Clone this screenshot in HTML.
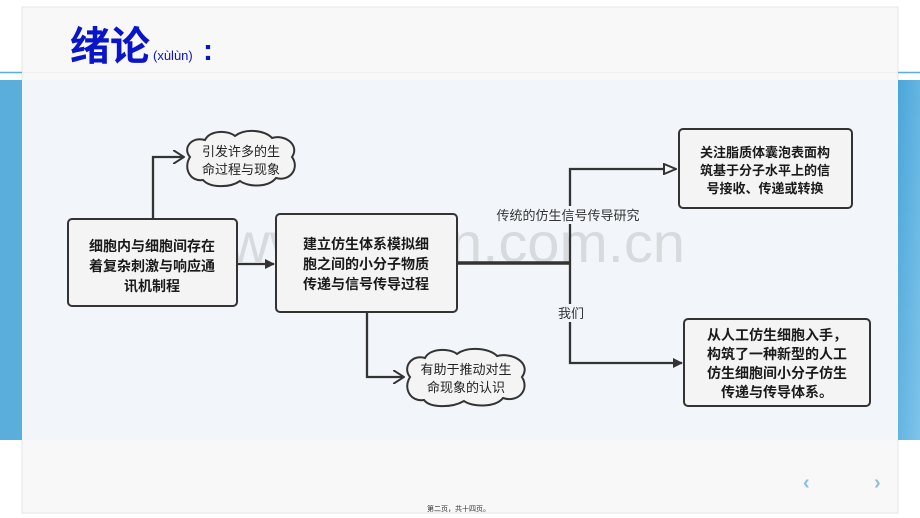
<!DOCTYPE html>
<html><head><meta charset="utf-8"><style>
body{margin:0;width:920px;height:518px;overflow:hidden;background:#fff;font-family:"Liberation Sans","Noto Sans CJK SC",sans-serif;}
</style></head><body>
<svg width="920" height="518" viewBox="0 0 920 518" xmlns="http://www.w3.org/2000/svg" style="position:absolute;left:0;top:0">
<defs>
<linearGradient id="bl" x1="0" y1="0" x2="1" y2="1"><stop offset="0" stop-color="#4aa6d8"/><stop offset="1" stop-color="#7fc4ea"/></linearGradient>
<marker id="fa" markerWidth="10" markerHeight="10" refX="9" refY="5" orient="auto" markerUnits="userSpaceOnUse"><path d="M0,0 L10,5 L0,10z" fill="#333"/></marker>
<marker id="va" markerWidth="12" markerHeight="14" refX="11" refY="7" orient="auto" markerUnits="userSpaceOnUse"><path d="M0,0 L11,7 L0,14" fill="none" stroke="#333" stroke-width="2"/></marker>
<marker id="ta" markerWidth="14" markerHeight="12" refX="13" refY="6" orient="auto" markerUnits="userSpaceOnUse"><path d="M1,1 L13,6 L1,11z" fill="#f4f6f8" stroke="#333" stroke-width="2"/></marker>
</defs>
<rect x="22" y="7" width="876" height="506" fill="#f8f8f8" stroke="#e4e4e4"/>
<line x1="0" y1="72.5" x2="22" y2="72.5" stroke="#5aaedc" stroke-width="1.5"/>
<line x1="898" y1="72.5" x2="920" y2="72.5" stroke="#5aaedc" stroke-width="1.5"/>
<line x1="22" y1="72.5" x2="898" y2="72.5" stroke="#eef0f2"/>
<rect x="0" y="80" width="22" height="360" fill="#5aaedc"/>
<rect x="898" y="80" width="22" height="360" fill="url(#bl)"/>
<rect x="22" y="80" width="876" height="360" fill="#f2f6fa"/>
<text x="70" y="60" font-size="40" font-weight="bold" fill="#0a14c8">绪论</text>
<text x="153" y="60" font-size="13" fill="#0a14c8">(xùlùn)</text>
<text x="203" y="60" font-size="30" font-weight="bold" fill="#0a14c8">:</text>
<text x="228" y="262" font-size="56" fill="#d8dadd" textLength="457" lengthAdjust="spacingAndGlyphs">www.zixin.com.cn</text>
<g fill="none" stroke="#333" stroke-width="2.3">
<path d="M153,219 V157 H184" marker-end="url(#va)"/>
<path d="M237,264 H274" marker-end="url(#fa)"/>
<path d="M457,263 H570" stroke-width="3.5"/>
<path d="M570,263 V169 H676" marker-end="url(#ta)"/>
<path d="M570,263 V363 H682" marker-end="url(#fa)"/>
<path d="M367,312 V377 H404" marker-end="url(#va)"/>
</g>
<g fill="#f4f4f4" stroke="#333" stroke-width="2">
<rect x="68" y="219" width="169" height="87" rx="4"/>
<rect x="276" y="214" width="181" height="98" rx="4"/>
<rect x="679" y="129" width="173" height="79" rx="4"/>
<rect x="684" y="319" width="186" height="87" rx="4"/>
<path d="M190,157 C182,148 192,136 205,140 C210,130 228,130 235,136 C245,128 265,130 272,138 C285,134 300,145 292,157 C300,168 290,182 276,178 C268,188 248,187 240,181 C230,188 210,188 203,180 C190,182 183,168 190,157z"/>
<path d="M410,377 C402,367 412,354 425,358 C430,348 450,348 457,354 C467,346 490,348 497,356 C512,352 532,363 522,377 C530,390 518,403 503,398 C495,408 472,407 464,401 C452,408 430,408 424,400 C410,402 403,388 410,377z"/>
</g>
<g font-size="14" fill="#222" text-anchor="middle">
<text x="241" y="156" font-size="13">引发许多的生</text><text x="241" y="174" font-size="13">命过程与现象</text>
<text x="466" y="374" font-size="13">有助于推动对生</text><text x="466" y="392" font-size="13">命现象的认识</text>
</g>
<g font-size="14" font-weight="bold" fill="#1a1a1a" text-anchor="middle">
<text x="152" y="251">细胞内与细胞间存在</text><text x="152" y="271">着复杂刺激与响应通</text><text x="152" y="291">讯机制程</text>
<text x="366" y="249">建立仿生体系模拟细</text><text x="366" y="269">胞之间的小分子物质</text><text x="366" y="289">传递与信号传导过程</text>
<text x="765" y="157" font-size="13">关注脂质体囊泡表面构</text><text x="765" y="175" font-size="13">筑基于分子水平上的信</text><text x="765" y="193" font-size="13">号接收、传递或转换</text>
<text x="777" y="340">从人工仿生细胞入手，</text><text x="777" y="359">构筑了一种新型的人工</text><text x="777" y="378">仿生细胞间小分子仿生</text><text x="777" y="397">传递与传导体系。</text>
</g>
<rect x="486" y="206" width="164" height="18" fill="#f2f6fa"/>
<text x="568" y="220" font-size="13" fill="#333" text-anchor="middle">传统的仿生信号传导研究</text>
<rect x="556" y="304" width="30" height="18" fill="#f2f6fa"/>
<text x="571" y="318" font-size="13" fill="#333" text-anchor="middle">我们</text>
<text x="427" y="511" font-size="7" fill="#333">第二页，共十四页。</text>
<text x="803" y="489" font-size="20" font-weight="bold" fill="#8cbfe4">‹</text>
<text x="874" y="489" font-size="20" font-weight="bold" fill="#8cbfe4">›</text>
</svg>
</body></html>
